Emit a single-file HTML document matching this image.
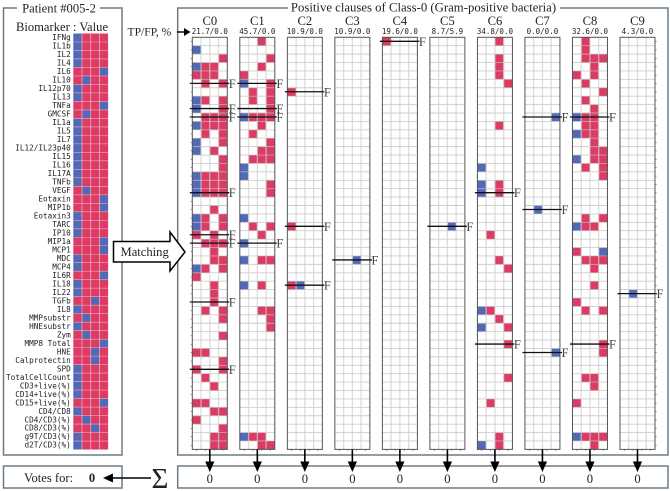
<!DOCTYPE html>
<html lang="en">
<head>
<meta charset="utf-8">
<title>Patient matching chart</title>
<style>
html,body{margin:0;padding:0;background:#fff;width:670px;height:491px;overflow:hidden}
svg{display:block;filter:blur(0.3px)}
.s{font-family:"Liberation Serif",serif;fill:#222}
.m{font-family:"DejaVu Sans Mono","Liberation Mono",monospace;fill:#222}
</style>
</head>
<body>
<svg id="chart" width="670" height="491" viewBox="0 0 670 491" xmlns="http://www.w3.org/2000/svg">
  <rect x="3.5" y="8" width="118.5" height="447" fill="none" stroke="#6d7b86" stroke-width="1.5"/>
  <rect x="17" y="4" width="83" height="8" fill="#fff"/>
  <text class="s" x="59" y="12.5" font-size="12.6" text-anchor="middle">Patient #005-2</text>
  <text class="s" x="62" y="31" font-size="12.6" text-anchor="middle">Biomarker : Value</text>

  <rect x="177.7" y="8" width="490.3" height="447" fill="none" stroke="#6d7b86" stroke-width="1.5"/>
  <rect x="288" y="4" width="272" height="8" fill="#fff"/>
  <text class="s" x="423.5" y="11.5" font-size="12.75" text-anchor="middle">Positive clauses of Class-0 (Gram-positive bacteria)</text>

  <text class="s" x="127.5" y="35.5" font-size="11.6">TP/FP, %</text>
  <line x1="177" y1="32" x2="186" y2="32" stroke="#000" stroke-width="1.4"/>
  <polygon points="184,28 190.5,32 184,36" fill="#000"/>

  <rect x="3.5" y="466" width="118.5" height="22" fill="none" stroke="#6d7b86" stroke-width="1.5"/>
  <text class="s" x="24" y="482" font-size="12.6">Votes for:</text>
  <text class="s" x="92" y="482" font-size="12.6" font-weight="bold" text-anchor="middle">0</text>
  <line x1="151" y1="478" x2="110" y2="478" stroke="#000" stroke-width="1.5"/>
  <polygon points="103,478 113,473.5 113,482.5" fill="#000"/>
  <text class="s" x="160" y="488" font-size="29" text-anchor="middle">Σ</text>

  <rect x="177.7" y="466" width="490.3" height="22" fill="none" stroke="#6d7b86" stroke-width="1.5"/>

  <polygon points="113.5,241.5 170,241.5 170,232 185,252 170,271 170,262 113.5,262" fill="#fff" stroke="#000" stroke-width="1.5"/>
  <text class="s" x="120.5" y="256" font-size="12.6">Matching</text>

  <g id="patientLayer"></g>
  <g id="clauseLayer"></g>
</svg>
<script>
const biomarkers = ["IFNg","IL1b","IL2","IL4","IL6","IL10","IL12p70","IL13","TNFa","GMCSF","IL1a","IL5","IL7","IL12/IL23p40","IL15","IL16","IL17A","TNFb","VEGF","Eotaxin","MIP1b","Eotaxin3","TARC","IP10","MIP1a","MCP1","MDC","MCP4","IL6R","IL18","IL22","TGFb","IL8","MMPsubstr","HNEsubstr","Zym","MMP8 Total","HNE","Calprotectin","SPD","TotalCellCount","CD3+live(%)","CD14+live(%)","CD15+live(%)","CD4/CD8","CD4/CD3(%)","CD8/CD3(%)","g9T/CD3(%)","d2T/CD3(%)"];
const patientValues = [0,0,0,0,3,1,0,0,3,1,0,0,0,0,0,0,0,0,1,3,3,0,0,0,3,3,0,0,3,0,0,2,0,1,0,1,3,2,2,0,0,0,0,3,0,1,2,0,0];
const clauseNames = ["C0","C1","C2","C3","C4","C5","C6","C7","C8","C9"];
const clauseStats = ["21.7/0.0","45.7/0.0","10.9/0.0","10.9/0.0","19.6/0.0","8.7/5.9","34.8/0.0","0.0/0.0","32.6/0.0","4.3/0.0"];
const clauseVotes = [0,0,0,0,0,0,0,0,0,0];

const c0Red = [[2,3],[3,1],[3,2],[4,0],[4,1],[4,2],[5,1],[5,3],[7,1],[7,3],[8,3],[9,1],[9,2],[9,3],[10,1],[10,2],[10,3],[11,1],[11,3],[12,3],[13,2],[14,3],[15,3],[16,1],[16,2],[16,3],[17,1],[17,2],[17,3],[18,1],[18,2],[18,3],[20,2],[21,1],[21,3],[22,1],[22,3],[23,0],[23,2],[24,1],[24,2],[24,3],[25,2],[26,2],[26,3],[27,1],[27,3],[28,0],[29,2],[30,2],[31,2],[32,1],[32,3],[33,3],[35,3],[37,0],[37,1],[38,3],[39,0],[39,3],[40,1],[41,2],[43,0],[43,1],[44,2],[44,3],[45,0],[46,3],[47,2],[47,3],[48,2],[48,3]];
const c0Blue = [[1,0],[3,0],[7,0],[8,0],[10,0],[12,0],[13,0],[16,0],[17,0],[18,0],[21,0],[22,0],[27,0]];
const c0False = [5,8,9,18,23,24,31,39];

const c1Red = [[0,2],[2,3],[3,2],[4,0],[5,3],[6,1],[6,3],[7,1],[7,3],[8,3],[9,1],[9,2],[9,3],[10,2],[11,1],[12,3],[13,2],[13,3],[14,1],[14,2],[14,3],[17,3],[18,3],[22,1],[22,3],[23,2],[26,2],[26,3],[29,2],[32,2],[32,3],[33,3],[34,3],[47,1],[47,2],[48,2],[48,3]];
const c1Blue = [[5,0],[9,0],[15,0],[16,0],[21,0],[24,0],[26,0],[29,0],[47,0]];
const c1False = [5,8,9,24];

const c2Red = [[6,0],[22,0],[29,0]];
const c2Blue = [[29,1]];
const c2False = [6,22,29];

const c3Red = [];
const c3Blue = [[26,2]];
const c3False = [26];

const c4Red = [[0,0]];
const c4Blue = [];
const c4False = [0];

const c5Red = [];
const c5Blue = [[22,2]];
const c5False = [22];

const c6Red = [[0,2],[2,2],[3,2],[4,2],[5,3],[10,2],[17,2],[18,2],[23,1],[26,2],[27,3],[32,1],[33,2],[34,3],[36,3],[40,3],[43,1],[47,2],[48,2]];
const c6Blue = [[15,0],[17,0],[18,0],[32,0],[34,0],[48,0]];
const c6False = [18,36];

const c7Red = [];
const c7Blue = [[9,3],[20,1],[37,3]];
const c7False = [9,20,37];

const c8Red = [[0,1],[1,1],[2,1],[2,2],[2,3],[3,2],[4,0],[4,2],[5,1],[6,3],[7,1],[8,2],[9,1],[9,2],[10,1],[10,2],[11,1],[11,2],[12,2],[13,2],[13,3],[14,2],[14,3],[15,1],[15,3],[16,3],[21,1],[21,3],[22,1],[22,2],[25,0],[26,1],[26,2],[26,3],[27,2],[29,2],[31,0],[32,1],[32,3],[36,3],[37,3],[40,1],[40,2],[41,2],[43,0],[47,1],[47,2],[47,3],[48,2]];
const c8Blue = [[9,0],[11,0],[14,0],[22,0],[25,3],[47,0]];
const c8False = [9,36];

const c9Red = [];
const c9Blue = [[30,1]];
const c9False = [30];

const clauseRed = [c0Red,c1Red,c2Red,c3Red,c4Red,c5Red,c6Red,c7Red,c8Red,c9Red];
const clauseBlue = [c0Blue,c1Blue,c2Blue,c3Blue,c4Blue,c5Blue,c6Blue,c7Blue,c8Blue,c9Blue];
const clauseFalse = [c0False,c1False,c2False,c3False,c4False,c5False,c6False,c7False,c8False,c9False];

const NS = "http://www.w3.org/2000/svg";
const RED = "#dc3c63";
const BLUE = "#5169b6";
const ROWS = biomarkers.length;
const COLS = 4;

const patientX = (c) => 73.3 + 8.7 * c;
const patientY = (r) => 33.5 + 8.49 * r;
const clauseLeft = (i) => 192.3 + 47.52 * i;
const cellW = 8.75;
const clauseX = (i, c) => clauseLeft(i) + cellW * c;
const clauseY = (r) => 37.3 + 8.41 * r;

function mk(tag, attrs, parent) {
  const el = document.createElementNS(NS, tag);
  for (const k in attrs) el.setAttribute(k, attrs[k]);
  parent.appendChild(el);
  return el;
}

const patientLayer = document.getElementById("patientLayer");
const clauseLayer = document.getElementById("clauseLayer");

biomarkers.forEach((name, r) => {
  const label = mk("text", {class:"m", x:70.8, y:patientY(r)+6.7, "font-size":7.7, "text-anchor":"end"}, patientLayer);
  
  
  label.textContent = name;
  for (let c = 0; c < COLS; c++) {
    const cell = mk("rect", {x:patientX(c), y:patientY(r), width:8.7, height:8.49, fill: patientValues[r] === c ? BLUE : RED}, patientLayer);
    
    
  }
});
for (let r = 1; r < ROWS; r++) {
  const g = mk("line", {x1:patientX(0), x2:patientX(COLS), y1:patientY(r), y2:patientY(r), stroke:"#f1a9bb", "stroke-width":0.6}, patientLayer);
  
  
}
for (let c = 1; c < COLS; c++) {
  const g = mk("line", {x1:patientX(c), x2:patientX(c), y1:patientY(0), y2:patientY(ROWS), stroke:"#f1a9bb", "stroke-width":0.8}, patientLayer);
  
  
}

clauseNames.forEach((name, i) => {
  const left = clauseLeft(i);
  const right = clauseX(i, COLS);
  const mid = clauseX(i, 2);
  const top = clauseY(0);
  const bottom = clauseY(ROWS);

  const title = mk("text", {class:"s", x:mid, y:25, "font-size":12.6, "text-anchor":"middle"}, clauseLayer);
  
  
  title.textContent = name;

  const stat = mk("text", {class:"m", x:mid, y:34, "font-size":7.5, "text-anchor":"middle"}, clauseLayer);
  
  
  stat.textContent = clauseStats[i];

  clauseRed[i].forEach(([r, c]) => {
    const cell = mk("rect", {x:clauseX(i,c), y:clauseY(r), width:cellW, height:8.41, fill:RED}, clauseLayer);
    
    
  });
  clauseBlue[i].forEach(([r, c]) => {
    const cell = mk("rect", {x:clauseX(i,c), y:clauseY(r), width:cellW, height:8.41, fill:BLUE}, clauseLayer);
    
    
  });

  for (let r = 1; r < ROWS; r++) {
    const g = mk("line", {x1:left, x2:right, y1:clauseY(r), y2:clauseY(r), stroke:"#bdbdbd", "stroke-opacity":0.75, "stroke-width":0.9}, clauseLayer);
    
    
  }
  for (let c = 1; c < COLS; c++) {
    const g = mk("line", {x1:clauseX(i,c), x2:clauseX(i,c), y1:top, y2:bottom, stroke:"#cfcfcf", "stroke-opacity":0.7, "stroke-width":1.3}, clauseLayer);
    
    
  }

  const box = mk("rect", {x:left, y:top, width:right-left, height:bottom-top, fill:"none", stroke:"#555", "stroke-width":1}, clauseLayer);
  
  

  for (let c = 0; c < COLS; c++) {
    const tx = clauseX(i,c) + cellW/2;
    const t = mk("line", {x1:tx, x2:tx, y1:bottom, y2:bottom+1.5, stroke:"#555", "stroke-width":0.6}, clauseLayer);
    
    
  }

  clauseFalse[i].forEach((r) => {
    const y = clauseY(r) + 4.0;
    const line = mk("line", {x1:left-2.5, x2:right+2, y1:y, y2:y, stroke:"#111", "stroke-width":1.3}, clauseLayer);
    
    
    const f = mk("text", {class:"s", x:right+1.5, y:y+4.5, "font-size":12.6, style:"fill:#444"}, clauseLayer);
    
    
    f.textContent = "F";
  });

  const shaft = mk("line", {x1:mid, x2:mid, y1:bottom, y2:463, stroke:"#000", "stroke-width":1.6}, clauseLayer);
  
  
  const head = mk("polygon", {points:`${mid-4.6},461.5 ${mid+4.6},461.5 ${mid},472`, fill:"#000"}, clauseLayer);
  
  

  const vote = mk("text", {class:"s", x:mid, y:483, "font-size":12.6, "text-anchor":"middle"}, clauseLayer);
  
  
  vote.textContent = clauseVotes[i];
});

for (let r = 0; r < ROWS; r++) {
  const y = clauseY(r) + 4.2;
  const lt = mk("line", {x1:190.6, x2:192.3, y1:y, y2:y, stroke:"#555", "stroke-width":0.6}, clauseLayer);
  
  
  const rx = clauseX(9, COLS);
  const rt = mk("line", {x1:rx, x2:rx+1.7, y1:y, y2:y, stroke:"#555", "stroke-width":0.6}, clauseLayer);
  
  
}
</script>
</body>
</html>
